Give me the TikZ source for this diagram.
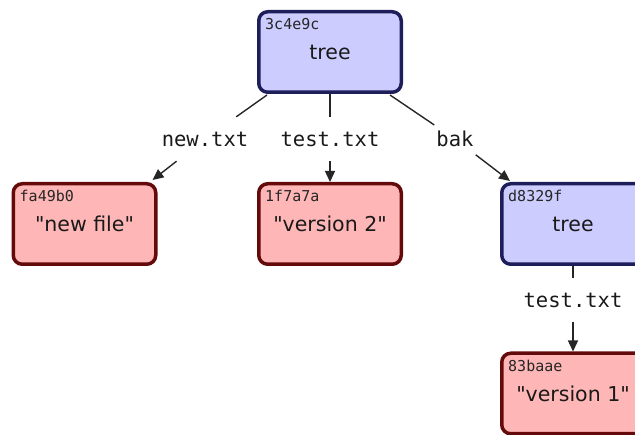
\documentclass[tikz,border=0pt]{standalone}
\usepackage{fontspec}
\setmainfont{DejaVu Sans}[Ligatures=TeXOff]
\newfontfamily\monofont{DejaVu Sans Mono}
\usetikzlibrary{arrows.meta,calc}
\definecolor{treefill}{HTML}{CCCCFF}
\definecolor{treeline}{HTML}{1E1E5A}
\definecolor{blobfill}{HTML}{FFB6B6}
\definecolor{blobline}{HTML}{640A0A}
\begin{document}
\begin{tikzpicture}[x=1pt,y=-1pt,
  box/.style={rounded corners=9pt, line width=3.5pt, minimum width=142.5pt, minimum height=80.5pt, inner sep=0pt, text=black!90, font=\fontsize{20.5}{24}\selectfont},
  treebox/.style={box, draw=treeline, fill=treefill},
  blobbox/.style={box, draw=blobline, fill=blobfill},
  hash/.style={anchor=north west, inner sep=0pt, text=black!85, font=\monofont\fontsize{15}{17}\selectfont},
  edgelabel/.style={inner xsep=2pt, inner ysep=0pt, minimum height=44pt, text=black!90, font=\monofont\fontsize{20.5}{24}\selectfont},
  conn/.style={line width=1.4pt, draw=black!85},
  arr/.style={conn, -{Triangle[length=11pt,width=10pt]}}
]
\useasboundingbox (0,0) rectangle (635,435);
\clip (0,0) rectangle (635,435);

% boxes
\node[treebox] (root) at (330,52) {tree};
\node[hash] (roothash) at ($(root.north west)+(8,8)$) {3c4e9c};
\node[blobbox] (newblob) at (84.5,224) {"new file"};
\node[hash] (newhash) at ($(newblob.north west)+(8,8)$) {fa49b0};
\node[blobbox] (v2) at (330,224) {"version 2"};
\node[hash] (v2hash) at ($(v2.north west)+(8,8)$) {1f7a7a};
\node[treebox] (bak) at (573,224) {tree};
\node[hash] (bakhash) at ($(bak.north west)+(8,8)$) {d8329f};
\node[blobbox] (v1) at (573,393.5) {"version 1"};
\node[hash] (v1hash) at ($(v1.north west)+(8,8)$) {83baae};

% edge labels
\node[edgelabel] (lnew) at (205,139) {new.txt};
\node[edgelabel] (ltest) at (330,139) {test.txt};
\node[edgelabel] (lbak) at (455,139) {bak};
\node[edgelabel] (lbaktest) at (573,300) {test.txt};

% connector end points
\coordinate (s1) at ($(root.south west)+(10,1)$);
\coordinate (s3) at ($(root.south east)+(-13,1)$);
\coordinate (e1) at ($(newblob.north east)+(-5,-2)$);
\coordinate (e3) at ($(bak.north west)+(10,-1)$);

% connectors
\draw[conn] (s1) -- (lnew);
\draw[arr] (lnew) -- (e1);
\draw[conn] (root.south) -- (ltest);
\draw[arr] (ltest) -- (v2.north);
\draw[conn] (s3) -- (lbak);
\draw[arr] (lbak) -- (e3);
\draw[conn] (bak.south) -- (lbaktest);
\draw[arr] (lbaktest) -- (v1.north);
\end{tikzpicture}
\end{document}
